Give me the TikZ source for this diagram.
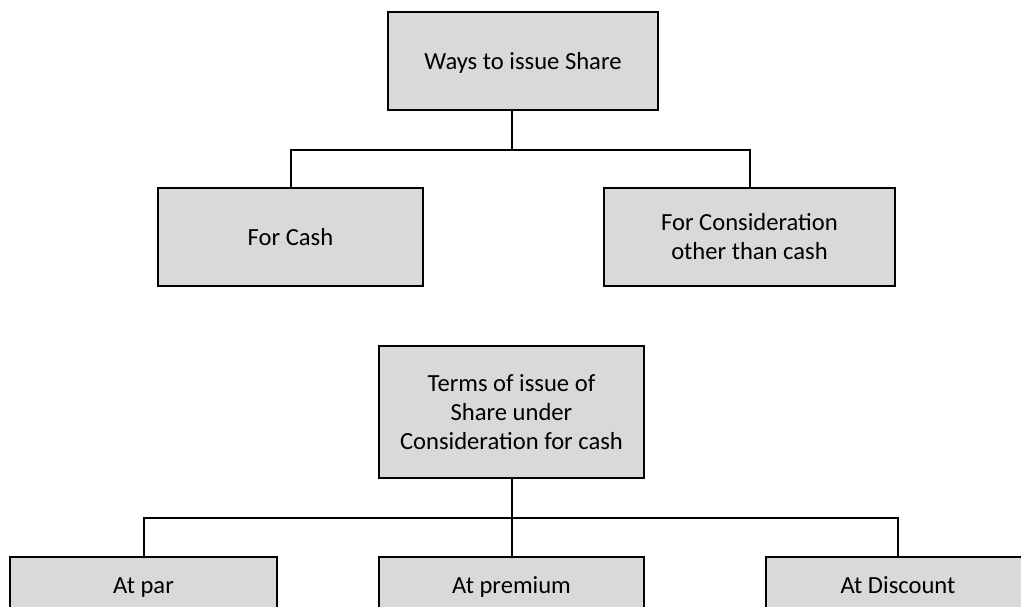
\documentclass[tikz,border=0pt]{standalone}
\usepackage{fontspec}
\setmainfont{Carlito}
\definecolor{boxgray}{HTML}{D9D9D9}
\begin{document}
\begin{tikzpicture}[x=1pt,y=-1pt,
  box/.style={draw=black, line width=2pt, fill=boxgray, inner sep=0pt, align=center,
    font=\fontsize{24.6}{29}\selectfont},
  oneline/.style={text height=20.5pt, text depth=3.5pt},
  conn/.style={line width=2pt, line join=miter}]
\useasboundingbox (0,0) rectangle (1021,607);
\begin{scope}
\clip (0,0) rectangle (1021,607);
\node[box, oneline, minimum width=270pt, minimum height=98pt] (top) at (523,61) {Ways to issue Share};
\node[box, oneline, minimum width=265pt, minimum height=98pt] (cash) at (290.5,237) {For Cash};
\node[box, minimum width=291pt, minimum height=98pt] (other) at (749.5,237) {For Consideration\\other than cash};
\node[box, minimum width=265pt, minimum height=132pt] (terms) at (511.5,412) {Terms of issue of\\Share under\\Consideration for cash};
\node[box, oneline, minimum width=267pt, minimum height=56pt] (par) at (143.5,585) {At par};
\node[box, oneline, minimum width=265pt, minimum height=56pt] (prem) at (511.5,585) {At premium};
\node[box, oneline, minimum width=264pt, minimum height=56pt] (disc) at (898,585) {At Discount};
\coordinate (j1) at (512,150);
\coordinate (j2) at (512,518);
\draw[conn] (top.south -| j1) -- (j1);
\draw[conn] (cash.north) -- (cash.north |- j1) -- (other.north |- j1) -- (other.north);
\draw[conn] (terms.south -| j2) -- (prem.north -| j2);
\draw[conn] (par.north) -- (par.north |- j2) -- (disc.north |- j2) -- (disc.north);
\end{scope}
\end{tikzpicture}
\end{document}
